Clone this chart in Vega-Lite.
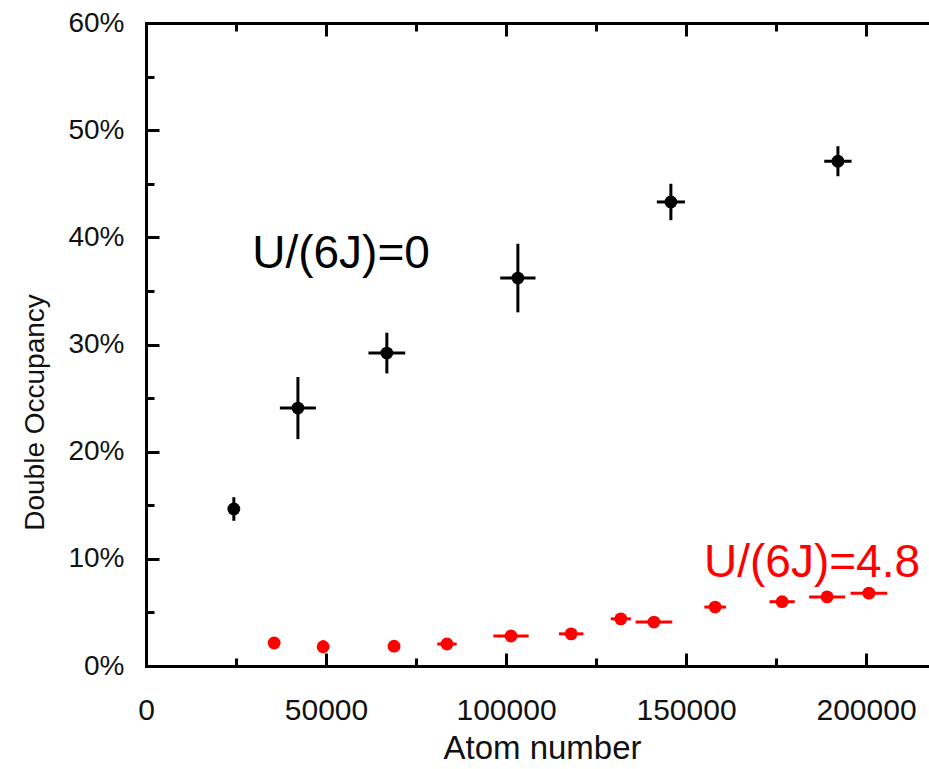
{
  "$schema": "https://vega.github.io/schema/vega-lite/v6.json",
  "autosize": {"type": "none"},
  "padding": {"left": 146, "top": 23, "right": 0, "bottom": 102},
  "width": 783,
  "height": 643,
  "background": "white",
  "config": {
    "view": {"stroke": null},
    "font": "Liberation Sans",
    "axis": {
      "labelFont": "Liberation Sans",
      "titleFont": "Liberation Sans",
      "labelColor": "#111",
      "titleColor": "#111",
      "titleFontWeight": "normal",
      "domainColor": "black",
      "tickColor": "black",
      "domainWidth": 3,
      "tickWidth": 3,
      "grid": false,
      "domainCap": "square"
    }
  },
  "datasets": {
    "pts": [
      {"series": "U/(6J)=0", "n": 24400, "d": 0.1465, "dlo": 0.1355, "dhi": 0.1575, "nlo": 23400, "nhi": 25400},
      {"series": "U/(6J)=0", "n": 42200, "d": 0.2407, "dlo": 0.2117, "dhi": 0.2697, "nlo": 37200, "nhi": 47200},
      {"series": "U/(6J)=0", "n": 66900, "d": 0.292, "dlo": 0.273, "dhi": 0.311, "nlo": 61800, "nhi": 72000},
      {"series": "U/(6J)=0", "n": 103300, "d": 0.362, "dlo": 0.330, "dhi": 0.394, "nlo": 98400, "nhi": 108200},
      {"series": "U/(6J)=0", "n": 145800, "d": 0.433, "dlo": 0.416, "dhi": 0.450, "nlo": 141900, "nhi": 149700},
      {"series": "U/(6J)=0", "n": 192200, "d": 0.471, "dlo": 0.457, "dhi": 0.485, "nlo": 188400, "nhi": 196000},
      {"series": "U/(6J)=4.8", "n": 35600, "d": 0.0215, "dlo": 0.0195, "dhi": 0.0235, "nlo": 35600, "nhi": 35600},
      {"series": "U/(6J)=4.8", "n": 49200, "d": 0.018, "dlo": 0.012, "dhi": 0.024, "nlo": 48400, "nhi": 50000},
      {"series": "U/(6J)=4.8", "n": 68900, "d": 0.0185, "dlo": 0.0165, "dhi": 0.0205, "nlo": 68900, "nhi": 68900},
      {"series": "U/(6J)=4.8", "n": 83600, "d": 0.0205, "dlo": 0.0185, "dhi": 0.0225, "nlo": 80900, "nhi": 86300},
      {"series": "U/(6J)=4.8", "n": 101400, "d": 0.028, "dlo": 0.026, "dhi": 0.030, "nlo": 96500, "nhi": 106300},
      {"series": "U/(6J)=4.8", "n": 118100, "d": 0.030, "dlo": 0.028, "dhi": 0.032, "nlo": 114700, "nhi": 121500},
      {"series": "U/(6J)=4.8", "n": 131900, "d": 0.044, "dlo": 0.042, "dhi": 0.046, "nlo": 129100, "nhi": 134700},
      {"series": "U/(6J)=4.8", "n": 141100, "d": 0.041, "dlo": 0.039, "dhi": 0.043, "nlo": 136000, "nhi": 146200},
      {"series": "U/(6J)=4.8", "n": 158100, "d": 0.055, "dlo": 0.053, "dhi": 0.057, "nlo": 155100, "nhi": 161100},
      {"series": "U/(6J)=4.8", "n": 176700, "d": 0.060, "dlo": 0.058, "dhi": 0.062, "nlo": 173200, "nhi": 180200},
      {"series": "U/(6J)=4.8", "n": 189200, "d": 0.0645, "dlo": 0.0625, "dhi": 0.0665, "nlo": 184200, "nhi": 194200},
      {"series": "U/(6J)=4.8", "n": 200800, "d": 0.068, "dlo": 0.066, "dhi": 0.070, "nlo": 195700, "nhi": 205900}
    ],
    "labels": [
      {"series": "U/(6J)=0", "n": 54170, "d": 0.3714, "text": "U/(6J)=0"},
      {"series": "U/(6J)=4.8", "n": 185000, "d": 0.083, "text": "U/(6J)=4.8"}
    ]
  },
  "resolve": {"axis": {"x": "independent", "y": "independent"}},
  "layer": [
    {
      "data": {"name": "pts"},
      "mark": {"type": "rule", "strokeWidth": 3},
      "encoding": {
        "x": {
          "field": "n", "type": "quantitative",
          "scale": {"domain": [0, 217500], "nice": false, "zero": false},
          "axis": {
            "orient": "bottom",
            "values": [0, 50000, 100000, 150000, 200000],
            "format": "d",
            "tickSize": -13,
            "labelPadding": 42,
            "labelFontSize": 30,
            "labelBaseline": "top",
            "title": "Atom number",
            "titleFontSize": 33,
            "titleX": 396,
            "titleY": 92,
            "titleBaseline": "alphabetic",
            "titleAlign": "center",
            "labelFlush": false,
            "labelOverlap": false
          }
        },
        "y": {
          "field": "dlo", "type": "quantitative",
          "scale": {"domain": [0, 0.6], "nice": false},
          "axis": {
            "orient": "left",
            "values": [0, 0.1, 0.2, 0.3, 0.4, 0.5, 0.6],
            "format": ".0%",
            "tickSize": -13,
            "labelPadding": 35,
            "labelFontSize": 28,
            "labelBaseline": "middle",
            "title": "Double Occupancy",
            "titleFontSize": 28,
            "titleAngle": -90,
            "titleX": -103,
            "titleY": 389,
            "titleAlign": "center",
            "titleBaseline": "alphabetic",
            "labelFlush": false,
            "labelOverlap": false
          }
        },
        "y2": {"field": "dhi"},
        "color": {
          "field": "series", "type": "nominal",
          "scale": {"domain": ["U/(6J)=0", "U/(6J)=4.8"], "range": ["#000000", "#ff0000"]},
          "legend": null
        }
      }
    },
    {
      "data": {"name": "pts"},
      "mark": {"type": "rule", "strokeWidth": 3},
      "encoding": {
        "x": {
          "field": "nlo", "type": "quantitative",
          "axis": {
            "orient": "bottom",
            "values": [25000, 75000, 125000, 175000],
            "tickSize": -8,
            "labels": false,
            "domain": false,
            "title": null
          }
        },
        "x2": {"field": "nhi"},
        "y": {
          "field": "d", "type": "quantitative",
          "axis": {
            "orient": "left",
            "values": [0.05, 0.15, 0.25, 0.35, 0.45, 0.55],
            "tickSize": -8,
            "labels": false,
            "domain": false,
            "title": null
          }
        },
        "color": {"field": "series", "type": "nominal", "legend": null}
      }
    },
    {
      "data": {"name": "pts"},
      "mark": {"type": "point", "filled": true, "shape": "circle", "size": 165, "opacity": 1},
      "encoding": {
        "x": {
          "field": "n", "type": "quantitative",
          "axis": {
            "orient": "top",
            "values": [0, 50000, 100000, 150000, 200000],
            "tickSize": -13,
            "labels": false,
            "title": null
          }
        },
        "y": {"field": "d", "type": "quantitative", "axis": null},
        "color": {"field": "series", "type": "nominal", "legend": null}
      }
    },
    {
      "data": {"name": "labels"},
      "mark": {"type": "text", "font": "Liberation Sans", "fontSize": 46, "align": "center", "baseline": "alphabetic"},
      "encoding": {
        "x": {
          "field": "n", "type": "quantitative",
          "axis": {
            "orient": "top",
            "values": [25000, 75000, 125000, 175000],
            "tickSize": -8,
            "labels": false,
            "domain": false,
            "title": null
          }
        },
        "y": {"field": "d", "type": "quantitative", "axis": null},
        "text": {"field": "text"},
        "color": {"field": "series", "type": "nominal", "legend": null}
      }
    }
  ]
}
